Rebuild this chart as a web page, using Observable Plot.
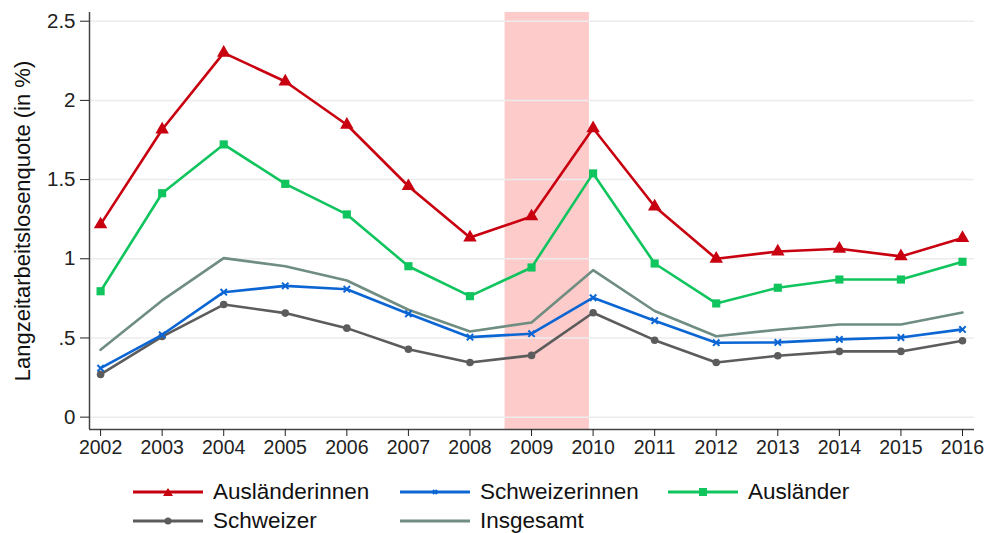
<!DOCTYPE html>
<html><head><meta charset="utf-8">
<script src="https://cdn.jsdelivr.net/npm/d3@7"></script>
<script src="https://cdn.jsdelivr.net/npm/@observablehq/plot@0.6"></script>
<style>
body{margin:0;background:#fff;font-family:"Liberation Sans",Arial,sans-serif;}
#chart{height:465px;}
#legend{position:relative;height:68px;}
.item{position:absolute;display:flex;align-items:center;font-size:22.5px;color:#111;line-height:1;}
.item svg{margin-right:10px;}
</style></head><body><div id="chart"></div><div id="legend"></div>
<script>
const years = [2002,2003,2004,2005,2006,2007,2008,2009,2010,2011,2012,2013,2014,2015,2016];
const auslaenderinnen = [1.217,1.816,2.30,2.119,1.846,1.458,1.134,1.267,1.824,1.33,1.0,1.046,1.063,1.015,1.131];
const schweizerinnen  = [0.309,0.520,0.789,0.829,0.808,0.653,0.505,0.527,0.754,0.609,0.47,0.472,0.491,0.503,0.554];
const auslaender      = [0.795,1.414,1.722,1.473,1.28,0.953,0.764,0.945,1.539,0.970,0.718,0.817,0.869,0.869,0.981];
const schweizer       = [0.27,0.509,0.711,0.657,0.562,0.429,0.345,0.39,0.659,0.486,0.345,0.388,0.415,0.415,0.482];
const insgesamt       = [0.425,0.737,1.004,0.953,0.863,0.678,0.541,0.598,0.928,0.67,0.511,0.552,0.585,0.585,0.661];
const seriesNames = ["Ausländerinnen","Schweizerinnen","Ausländer","Schweizer","Insgesamt"];
const seriesColors = ["#c8000f","#0b66d4","#10c45e","#5c5c5c","#6f8d80"];
const seriesSymbols = ["triangle","times","square","circle",null];
const yTicks = [0,0.5,1,1.5,2,2.5];
const yDomain = [-0.078,2.555];
const xDomain = [2001.82,2016.195];
const recession = [{start:2008.57,end:2009.94}];
const yTitle = "Langzeitarbeitslosenquote (in %)";

const valuesList = [auslaenderinnen,schweizerinnen,auslaender,schweizer,insgesamt];
const data = [];
seriesNames.forEach((s,i)=>valuesList[i].forEach((v,j)=>data.push({series:s,year:years[j],value:v})));
const drawOrder = ["Insgesamt","Schweizer","Schweizerinnen","Ausländer","Ausländerinnen"];

const marks = [
  Plot.rect(recession,{x1:"start",x2:"end",fill:"#fecbcb"}),
  Plot.gridY(yTicks,{stroke:"#ececec",strokeOpacity:1,strokeWidth:1.5}),
  Plot.ruleX([xDomain[0]],{stroke:"#444",strokeWidth:1.5}),
  Plot.ruleY([yDomain[0]],{stroke:"#444",strokeWidth:1.5}),
  Plot.axisY({ticks:yTicks,tickSize:9,tickPadding:5,fontSize:20.5,color:"#222",
    tickFormat:d=>String(d).replace(/^0\./,"."),label:null}),
  Plot.axisX({ticks:years,tickSize:7,tickPadding:4,fontSize:19.5,color:"#222",
    tickFormat:d=>String(d),label:null}),
  Plot.text([yTitle],{frameAnchor:"left",textAnchor:"middle",rotate:-90,dx:-67,fontSize:22,fill:"#111"})
];
for (const s of drawOrder){
  const i = seriesNames.indexOf(s);
  const d = data.filter(r=>r.series===s);
  marks.push(Plot.line(d,{x:"year",y:"value",stroke:seriesColors[i],strokeWidth:2.6}));
  const sym = seriesSymbols[i];
  if (sym==="times") marks.push(Plot.dot(d,{x:"year",y:"value",symbol:"times",r:3,stroke:seriesColors[i],strokeWidth:2}));
  else if (sym) marks.push(Plot.dot(d,{x:"year",y:"value",symbol:sym,r:sym==="circle"?3.8:(sym==="square"?4.6:5),fill:seriesColors[i],stroke:"none"}));
}

const chart = Plot.plot({
  width:985,height:465,marginLeft:89,marginRight:11,marginTop:12,marginBottom:36,
  style:{fontFamily:"'Liberation Sans',Arial,sans-serif",background:"#fff",color:"#222"},
  x:{domain:xDomain,axis:null},
  y:{domain:yDomain,axis:null},
  marks
});
document.getElementById("chart").appendChild(chart);

const legendPos = [[133,27],[400,27],[668,27],[133,56],[400,56]];
const legend = document.getElementById("legend");
seriesNames.forEach((s,i)=>{
  const div = document.createElement("div");
  div.className="item";
  div.style.left = legendPos[i][0]+"px";
  div.style.top = (legendPos[i][1]-11)+"px";
  const sym = seriesSymbols[i];
  let m = "";
  const c = seriesColors[i];
  if (sym==="triangle") m = `<path d="M35,2 L40,10 L30,10 Z" fill="${c}"/>`;
  else if (sym==="square") m = `<rect x="31" y="2" width="8" height="8" fill="${c}"/>`;
  else if (sym==="circle") m = `<circle cx="35" cy="6" r="3.5" fill="${c}"/>`;
  else if (sym==="times") m = `<path d="M33,4 L37,8 M37,4 L33,8" stroke="${c}" stroke-width="2"/>`;
  div.innerHTML = `<svg width="70" height="12"><line x1="0" x2="70" y1="6" y2="6" stroke="${c}" stroke-width="3"/>${m}</svg><span>${s}</span>`;
  legend.appendChild(div);
});
</script></body></html>
